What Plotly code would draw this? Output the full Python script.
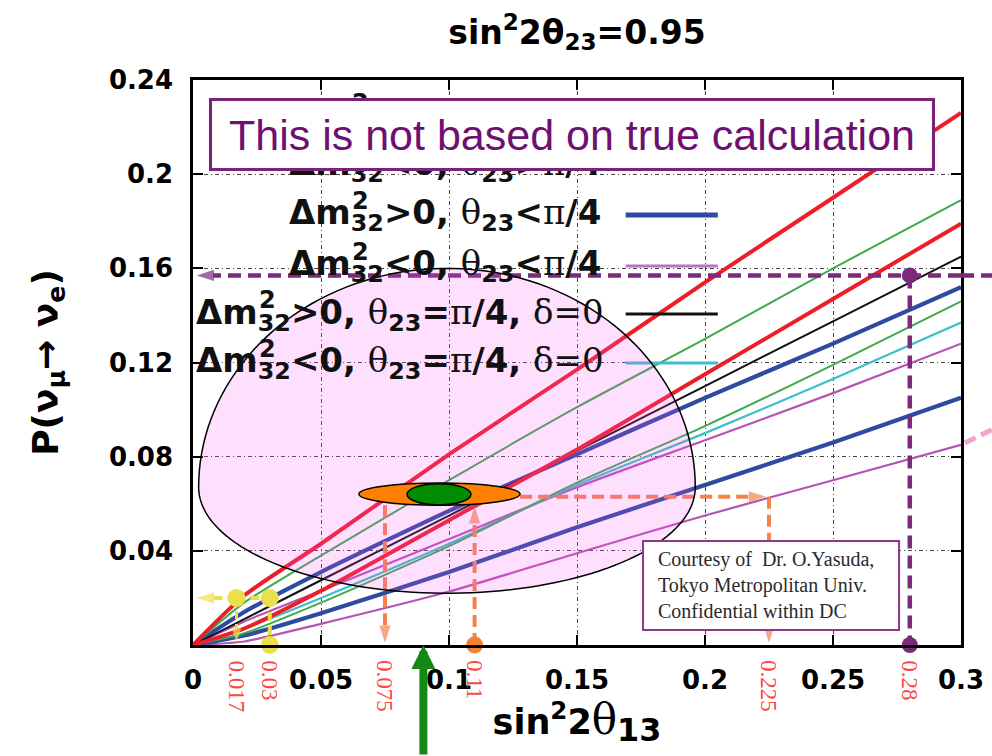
import numpy as np
import plotly.graph_objects as go

# ---------------------------------------------------------------
# nu_mu -> nu_e appearance probability vs sin^2(2 theta13)
# ---------------------------------------------------------------
S13 = [0, 0.02, 0.05, 0.1, 0.15, 0.2, 0.25, 0.3]

# dm32 > 0, theta23 > pi/4 (two delta extremes)
P_NH_UPPER_A = [0, 0.021, 0.043, 0.081, 0.117, 0.154, 0.190, 0.226]
P_NH_UPPER_B = [0, 0.007, 0.023, 0.053, 0.083, 0.115, 0.147, 0.179]
# dm32 < 0, theta23 > pi/4
P_IH_UPPER_A = [0, 0.018, 0.038, 0.070, 0.101, 0.130, 0.160, 0.189]
P_IH_UPPER_B = [0, 0.005, 0.018, 0.042, 0.069, 0.093, 0.119, 0.146]
# dm32 > 0, theta23 < pi/4
P_NH_LOWER_A = [0, 0.014, 0.031, 0.057, 0.081, 0.105, 0.128, 0.152]
P_NH_LOWER_B = [0, 0.004, 0.0135, 0.031, 0.050, 0.068, 0.086, 0.105]
# dm32 < 0, theta23 < pi/4
P_IH_LOWER_A = [0, 0.010, 0.023, 0.045, 0.067, 0.087, 0.107, 0.128]
P_IH_LOWER_B = [0, 0.0015, 0.009, 0.0227, 0.039, 0.055, 0.070, 0.085]
# theta23 = pi/4, delta = 0
P_NH_MAX = [0, 0.011, 0.0275, 0.055, 0.0825, 0.110, 0.1375, 0.165]
P_IH_MAX = [0, 0.007, 0.020, 0.043, 0.068, 0.090, 0.113, 0.137]

X_RANGE = [0, 0.3]
Y_RANGE = [0, 0.24]
X_TICKS = [0, 0.05, 0.1, 0.15, 0.2, 0.25, 0.3]
X_TICKTEXT = ["0", "0.05", "0.1", "0.15", "0.2", "0.25", "0.3"]
Y_TICKS = [0.04, 0.08, 0.12, 0.16, 0.2, 0.24]
Y_TICKTEXT = ["0.04", "0.08", "0.12", "0.16", "0.2", "0.24"]

# marked sin^2(2 theta13) readings
MARK_VALUES = [0.017, 0.03, 0.075, 0.11, 0.225, 0.28]
MARK_LABELS = ["0.017", "0.03", "0.075", "0.11", "0.225", "0.28"]

YELLOW_P = 0.02          # probability level of the small-theta13 case
ORANGE_P = 0.063         # measured probability (orange band)
PURPLE_P = 0.157         # large-theta13 probability level
GREEN_ARROW_S = 0.09     # central sin^2(2 theta13)

# allowed region, measured ellipses
REGION_CX, REGION_CY = 0.0992, 0.067
REGION_RX, REGION_RY_UP, REGION_RY_DN = 0.097, 0.093, 0.045
ORANGE_CX, ORANGE_CY, ORANGE_RX, ORANGE_RY = 0.0963, 0.0641, 0.0315, 0.0047
GREEN_CX, GREEN_CY, GREEN_RX, GREEN_RY = 0.0961, 0.0640, 0.0125, 0.0045

RED = "#EE1D27"
GREEN = "#3DAA4C"
BLUE = "#2D4B9F"
MAGENTA = "#B553B5"
BLACK = "#111111"
CYAN = "#3DBEC8"
YELLOW = "#ECDF4C"
ORANGE = "#F4824E"
ORANGE_DOT = "#F2822F"
PURPLE = "#7B2A7B"
LABEL_RED = "#FF4646"

SERIF = "DejaVu Serif"
SANS = "DejaVu Sans"


def serif(t):
    return f'<span style="font-family:{SERIF}">{t}</span>'


def legend_text(dm_sign, th_rel, with_delta):
    # the "2" of m^2 is stacked over the "32" by a separate label
    t = (f"<b>Δm<sub>32</sub>{dm_sign}0, </b>{serif('θ')}"
         f"<b><sub>23</sub>{th_rel}</b>{serif('π')}<b>/4</b>")
    if with_delta:
        t += f"<b>, </b>{serif('δ=0')}"
    return t


fig = go.Figure()

curves = [
    (P_IH_LOWER_B, MAGENTA, 2.2),
    (P_NH_LOWER_B, BLUE, 4.2),
    (P_IH_LOWER_A, MAGENTA, 2.2),
    (P_IH_MAX, CYAN, 2.2),
    (P_IH_UPPER_B, GREEN, 2.0),
    (P_NH_LOWER_A, BLUE, 4.2),
    (P_NH_MAX, BLACK, 2.0),
    (P_NH_UPPER_B, RED, 4.0),
    (P_IH_UPPER_A, GREEN, 2.0),
    (P_NH_UPPER_A, RED, 4.0),
]
for vals, color, width in curves:
    fig.add_trace(go.Scatter(
        x=S13, y=vals, mode="lines",
        line=dict(color=color, width=width, shape="spline", smoothing=0.6),
        hoverinfo="skip", showlegend=False))


def dashed(xs, ys, color, width, dash, head=0):
    n = len(xs)
    fig.add_trace(go.Scatter(
        x=xs, y=ys, mode="lines+markers" if head else "lines",
        line=dict(color=color, width=width, dash=dash),
        marker=dict(symbol=["circle"] * (n - 1) + ["arrow"],
                    size=[0] * (n - 1) + [head], color=color,
                    angleref="previous", line=dict(width=0)),
        cliponaxis=False, hoverinfo="skip", showlegend=False))


def dots(xs, ys, color, size):
    fig.add_trace(go.Scatter(
        x=xs, y=ys, mode="markers",
        marker=dict(size=size, color=color, line=dict(width=0)),
        cliponaxis=False, hoverinfo="skip", showlegend=False))


# small theta13 case (yellow)
s_a, s_b = MARK_VALUES[0], MARK_VALUES[1]
dashed([s_a, 0.0015], [YELLOW_P, YELLOW_P], YELLOW, 4, "9px,5px", head=18)
dashed([s_a, s_b], [YELLOW_P, YELLOW_P], YELLOW, 4, "9px,5px")
dashed([s_a, s_a], [YELLOW_P, 0.001], YELLOW, 3, "8px,5px", head=15)
dashed([s_b, s_b], [YELLOW_P, 0], YELLOW, 4, "9px,5px")

# measured probability (orange)
s_lo, s_hi, s_far = MARK_VALUES[2], MARK_VALUES[3], MARK_VALUES[4]
dashed([s_lo, s_lo], [ORANGE_CY - ORANGE_RY, 0.001], ORANGE, 4, "12px,6px", head=18)
dashed([s_hi, s_hi], [0, ORANGE_CY - ORANGE_RY - 0.0005], ORANGE, 4, "12px,6px", head=18)
dashed([ORANGE_CX + ORANGE_RX, s_far - 0.0012], [ORANGE_P, ORANGE_P], ORANGE, 4, "12px,6px", head=18)
dashed([s_far, s_far], [ORANGE_P, 0.001], ORANGE, 4, "12px,6px", head=18)

# large theta13 case (purple)
s_big = MARK_VALUES[5]
dashed([X_RANGE[1], 0.0015], [PURPLE_P, PURPLE_P], PURPLE, 4.5, "13px,7px", head=18)
dashed([s_big, s_big], [PURPLE_P, 0], PURPLE, 4.5, "13px,7px")

dots([s_a, s_b, s_b], [YELLOW_P, YELLOW_P, 0], YELLOW, 18)
dots([s_hi], [0], ORANGE_DOT, 17)
dots([s_big, s_big], [PURPLE_P, 0], PURPLE, 16)


def yp(v):
    return (v - Y_RANGE[0]) / (Y_RANGE[1] - Y_RANGE[0])


shapes = []

# legend line samples
LEG_S0, LEG_S1 = 0.169, 0.205
LEG_P = [0.2243, 0.2035, 0.1827, 0.161, 0.1406, 0.1198]
LEG_LEFT = [0.0367, 0.0367, 0.0367, 0.0367, 0.0004, 0.0004]
LEG_ITEMS = [
    (legend_text("&gt;", "&gt;", False), RED, 4),
    (legend_text("&lt;", "&gt;", False), GREEN, 3),
    (legend_text("&gt;", "&lt;", False), BLUE, 5),
    (legend_text("&lt;", "&lt;", False), "#C070C0", 3),
    (legend_text("&gt;", "=", True), BLACK, 3),
    (legend_text("&lt;", "=", True), CYAN, 3),
]
for (txt, col, w), p in zip(LEG_ITEMS, LEG_P):
    shapes.append(dict(type="line", xref="x", yref="y", x0=LEG_S0, x1=LEG_S1,
                       y0=p, y1=p, line=dict(color=col, width=w), layer="above"))

# allowed region
t_up = np.linspace(np.pi, 0, 80)
t_dn = np.linspace(0, -np.pi, 80)[1:]
rx = REGION_CX + REGION_RX * np.cos(np.concatenate([t_up, t_dn]))
ry = np.concatenate([REGION_CY + REGION_RY_UP * np.sin(t_up),
                     REGION_CY + REGION_RY_DN * np.sin(t_dn)])
path = "M " + " L ".join(f"{a:.5f},{b:.5f}" for a, b in zip(rx, ry)) + " Z"
shapes.append(dict(type="path", xref="x", yref="y", path=path,
                   fillcolor="rgba(250,85,250,0.19)",
                   line=dict(color="black", width=1.5), layer="above"))

shapes.append(dict(type="circle", xref="x", yref="y",
                   x0=ORANGE_CX - ORANGE_RX, x1=ORANGE_CX + ORANGE_RX,
                   y0=ORANGE_CY - ORANGE_RY, y1=ORANGE_CY + ORANGE_RY,
                   fillcolor="#FF8000", line=dict(color="black", width=1.5),
                   layer="above"))
shapes.append(dict(type="circle", xref="x", yref="y",
                   x0=GREEN_CX - GREEN_RX, x1=GREEN_CX + GREEN_RX,
                   y0=GREEN_CY - GREEN_RY, y1=GREEN_CY + GREEN_RY,
                   fillcolor="#008C00", line=dict(color="black", width=1.5),
                   layer="above"))

# credit box
shapes.append(dict(type="rect", xref="x", yref="y",
                   x0=0.1758, x1=0.2758, y0=0.0064, y1=0.0442,
                   fillcolor="white", line=dict(color="#8B3A8B", width=2),
                   layer="above"))

# purple level continuing past the frame
shapes.append(dict(type="line", xref="paper", yref="paper",
                   x0=1.0, x1=1.045, y0=yp(PURPLE_P), y1=yp(PURPLE_P),
                   line=dict(color=PURPLE, width=4.5, dash="13px,7px")))
# faint pink stroke beyond the right edge
shapes.append(dict(type="line", xref="paper", yref="paper",
                   x0=1.005, x1=1.045, y0=yp(0.0858), y1=yp(0.0922),
                   line=dict(color="#F3A5CD", width=5, dash="12px,6px")))

annotations = []
LEG_SIZE = 34
for (txt, col, w), p, left in zip(LEG_ITEMS, LEG_P, LEG_LEFT):
    annotations.append(dict(
        x=left, y=p, xref="x", yref="y", xanchor="left", yanchor="middle",
        text=txt, showarrow=False,
        font=dict(family=SANS, size=LEG_SIZE, color="#111111")))
    annotations.append(dict(
        x=left, y=p, xref="x", yref="y", xanchor="left", yanchor="middle",
        xshift=63, yshift=14, text="<b>2</b>", showarrow=False,
        font=dict(family=SANS, size=24, color="#111111")))

annotations.append(dict(
    x=0.1482, y=0.2169, xref="x", yref="y", xanchor="center", yanchor="middle",
    text="This is not based on true calculation", showarrow=False,
    font=dict(family="Liberation Sans", size=43, color="#6E1070"),
    bgcolor="white", bordercolor="#7A2378", borderwidth=3, borderpad=5,
    width=710, height=57))

annotations.append(dict(
    x=0.181, y=0.0253, xref="x", yref="y", xanchor="left", yanchor="middle",
    text="Courtesy of  Dr. O.Yasuda,<br>Tokyo Metropolitan Univ.<br>Confidential within DC",
    align="left", showarrow=False,
    font=dict(family="Liberation Serif", size=20, color="#2A2A2A")))

for v, lab in zip(MARK_VALUES, MARK_LABELS):
    annotations.append(dict(
        x=v, y=0, xref="x", yref="y", xanchor="center", yanchor="top",
        yshift=-13, text=lab, textangle=90, showarrow=False,
        font=dict(family="Liberation Serif", size=23, color=LABEL_RED)))

annotations.append(dict(
    x=GREEN_ARROW_S, y=0, xref="x", yref="y", ax=0, ay=112, text="",
    showarrow=True, arrowhead=2, arrowsize=0.6, arrowwidth=8,
    arrowcolor="#148A14"))

axis_common = dict(
    ticks="inside", ticklen=10, tickwidth=2, tickcolor="black",
    showline=True, linecolor="black", linewidth=2.5, mirror="ticks",
    showgrid=True, gridcolor="#444444", gridwidth=1, griddash="4px,3px,1px,3px",
    zeroline=False, automargin=False,
    tickfont=dict(family=SANS, size=26, color="black", weight="bold"),
)

x_title = ("<b>sin<sup>2</sup>2</b>"
           '<span style="font-family:DejaVu Serif;font-size:42px">θ</span>'
           '<b><sub><span style="font-size:130%">13</span></sub></b>')

fig.update_layout(
    template="none",
    width=992, height=756,
    margin=dict(l=193, r=31, t=80, b=111),
    paper_bgcolor="white", plot_bgcolor="white",
    font=dict(family=SANS, color="black"),
    showlegend=False,
    title=dict(text="<b>sin<sup>2</sup>2θ<sub>23</sub>=0.95</b>",
               x=0.5, xref="paper", xanchor="center",
               y=1 - 32 / 756, yref="container", yanchor="middle",
               font=dict(family=SANS, size=33, color="black")),
    xaxis=dict(range=X_RANGE, tickvals=X_TICKS, ticktext=X_TICKTEXT,
               ticklabelstandoff=10,
               title=dict(text=x_title,
                          font=dict(family=SANS, size=35, color="black"),
                          standoff=10),
               **axis_common),
    yaxis=dict(range=Y_RANGE, tickvals=Y_TICKS, ticktext=Y_TICKTEXT,
               ticklabelstandoff=12,
               title=dict(text="<b>P(ν<sub>μ</sub>→ ν<sub>e</sub>)</b>",
                          font=dict(family=SANS, size=36, color="black"),
                          standoff=40),
               **axis_common),
    shapes=shapes,
    annotations=annotations,
)

fig.write_html("out.html")
